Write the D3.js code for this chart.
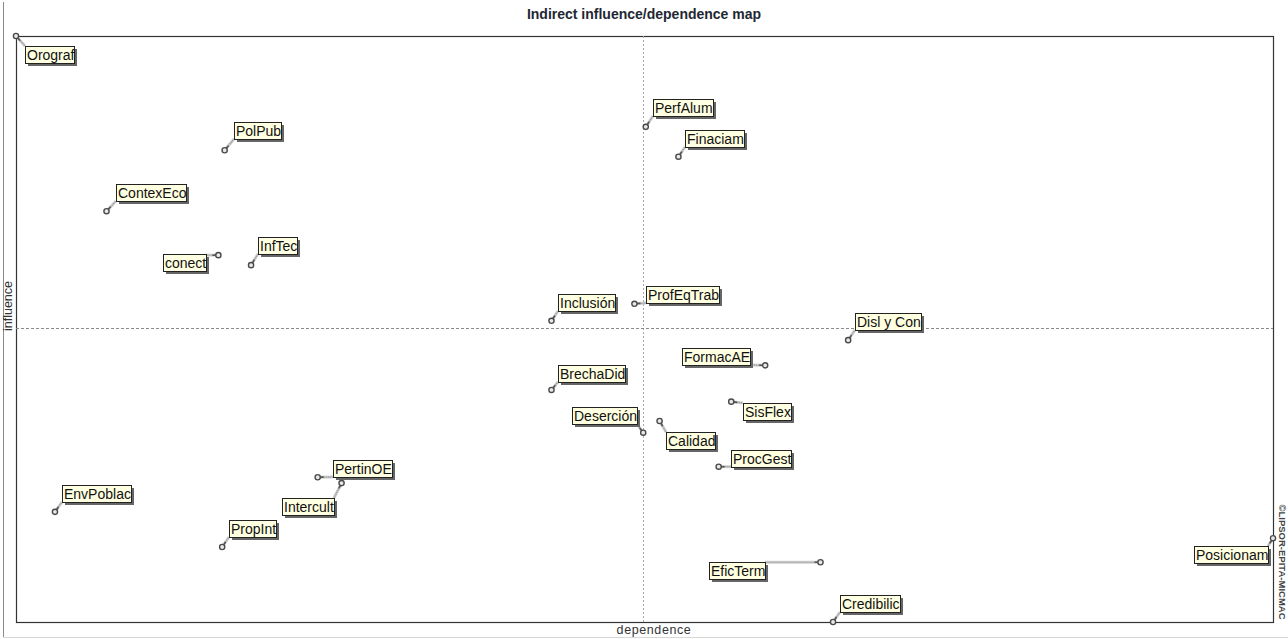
<!DOCTYPE html>
<html>
<head>
<meta charset="utf-8">
<script src="https://cdn.jsdelivr.net/npm/d3@7"></script>
<style>
  html, body { margin: 0; padding: 0; background: #ffffff; }
  svg { display: block; }
</style>
</head>
<body>
<svg id="chart" width="1288" height="639"></svg>
<script>
// ---- data (indirect dependence / influence, relative units) ----
const variables = ["Orograf","PolPub","ContexEco","conect","InfTec","PerfAlum","Finaciam","Inclusión","ProfEqTrab","Disl y Con","FormacAE","BrechaDid","SisFlex","Deserción","Calidad","ProcGest","PertinOE","Intercult","EnvPoblac","PropInt","EficTerm","Posicionam","Credibilic"];
const dependence = [0,166,72,161,187,501,527,426,492,662,596,426,569,499,512,559,240,259,31,164,640,1000,650];
const influence  = [1000,805,701,626,609,845,794,514,543,481,438,396,376,323,343,265,247,237,188,128,102,143,0];
const meanDependence = 499;
const meanInfluence = 502;

// ---- layout of label boxes relative to their point (pixels) ----
// side "r": box left edge = point.x + dx ; side "l": box right edge = point.x + dx ; dy = box top offset
const labelLayout = [
  {side:"r",dx:9,dy:10},{side:"r",dx:9,dy:-28},{side:"r",dx:9,dy:-27},{side:"l",dx:-12,dy:-1},
  {side:"r",dx:7,dy:-28},{side:"r",dx:7,dy:-28},{side:"r",dx:7,dy:-27},{side:"r",dx:7,dy:-27},
  {side:"r",dx:12,dy:-18},{side:"r",dx:7,dy:-27},{side:"l",dx:-15,dy:-17},{side:"r",dx:7,dy:-25},
  {side:"r",dx:12,dy:1},{side:"l",dx:-6,dy:-26},{side:"r",dx:6,dy:11},{side:"r",dx:12,dy:-17},
  {side:"r",dx:15,dy:-17},{side:"l",dx:-8,dy:15},{side:"r",dx:7,dy:-27},{side:"r",dx:7,dy:-27},
  {side:"l",dx:-55,dy:0},{side:"l",dx:-5,dy:8},{side:"r",dx:7,dy:-27}
];

const W = 1288, H = 639;
const plot = {left:16, top:36, right:1273, bottom:622};
const svg = d3.select("#chart");

const x = d3.scaleLinear().domain(d3.extent(dependence)).range([plot.left, plot.right]);
const y = d3.scaleLinear().domain(d3.extent(influence)).range([plot.bottom, plot.top]);

// outer frame lines
svg.append("line").attr("x1",3.5).attr("x2",3.5).attr("y1",2).attr("y2",637)
  .attr("stroke","#8a8a8a").attr("stroke-width",1);
svg.append("line").attr("x1",3).attr("x2",1288).attr("y1",637.5).attr("y2",637.5)
  .attr("stroke","#d8d8d8").attr("stroke-width",1);

// title
svg.append("text").attr("x",644).attr("y",19).attr("text-anchor","middle")
  .attr("font-family","Liberation Sans, Arial, sans-serif").attr("font-weight","bold")
  .attr("font-size",14).attr("fill","#1e2733").text("Indirect influence/dependence map");

// plot frame
svg.append("rect").attr("x",plot.left+0.5).attr("y",plot.top+0.5)
  .attr("width",plot.right-plot.left).attr("height",plot.bottom-plot.top)
  .attr("fill","none").attr("stroke","#333").attr("stroke-width",1.2);

// mean cross lines
svg.append("line").attr("x1",Math.round(x(meanDependence))+0.5).attr("x2",Math.round(x(meanDependence))+0.5)
  .attr("y1",plot.top).attr("y2",plot.bottom)
  .attr("stroke","#a8a8a8").attr("stroke-dasharray","2,2").attr("stroke-width",1);
svg.append("line").attr("x1",plot.left).attr("x2",plot.right)
  .attr("y1",Math.round(y(meanInfluence))+0.5).attr("y2",Math.round(y(meanInfluence))+0.5)
  .attr("stroke","#8a8a8a").attr("stroke-dasharray","3,2").attr("stroke-width",1);

// axis titles
svg.append("text").attr("x",654).attr("y",634).attr("text-anchor","middle")
  .attr("font-family","Liberation Sans, Arial, sans-serif").attr("font-size",12.5)
  .attr("letter-spacing",0.6).attr("fill","#333").text("dependence");
svg.append("text").attr("transform","translate(12,306) rotate(-90)").attr("text-anchor","middle")
  .attr("font-family","Liberation Sans, Arial, sans-serif").attr("font-size",12.5)
  .attr("fill","#333").text("influence");
svg.append("text").attr("transform","translate(1279,562) rotate(90)").attr("text-anchor","middle")
  .attr("font-family","Liberation Sans, Arial, sans-serif").attr("font-size",9.5).attr("font-weight","bold")
  .attr("fill","#444").text("©LIPSOR-EPITA-MICMAC");

// points + labels
const data = variables.map((name,i) => ({name, dep:dependence[i], inf:influence[i], lay:labelLayout[i]}));
const gConn = svg.append("g");
const gLab = svg.append("g");
const gPts = svg.append("g");

data.forEach(d => {
  const px = x(d.dep), py = y(d.inf);
  const g = gLab.append("g");
  const t = g.append("text")
    .attr("font-family","Liberation Sans, Arial, sans-serif").attr("font-size",14)
    .attr("fill","#111").text(d.name);
  const tw = t.node().getComputedTextLength();
  const bw = Math.round(tw + 2), bh = 17;
  const bx = d.lay.side === "r" ? Math.round(px + d.lay.dx) : Math.round(px + d.lay.dx - bw);
  const by = Math.round(py + d.lay.dy);
  g.insert("rect","text").attr("x",bx+3).attr("y",by+3).attr("width",bw).attr("height",bh)
    .attr("fill","#666");
  g.insert("rect","text").attr("x",bx+0.5).attr("y",by+0.5).attr("width",bw).attr("height",bh)
    .attr("fill","#ffffe1").attr("stroke","#222").attr("stroke-width",1);
  t.attr("x",bx+2).attr("y",by+14);
  // connector to nearest point on box
  const cx = Math.max(bx, Math.min(px, bx+bw));
  const cy = Math.max(by, Math.min(py, by+bh));
  gConn.append("line").attr("x1",px).attr("y1",py).attr("x2",cx).attr("y2",cy)
    .attr("stroke","#d0d0d0").attr("stroke-width",3);
  gConn.append("line").attr("x1",px).attr("y1",py).attr("x2",cx).attr("y2",cy)
    .attr("stroke","#8c8c8c").attr("stroke-width",1.2).attr("stroke-dasharray","1,1");
  // short dark handle near the marker
  const len = Math.hypot(cx-px, cy-py) || 1;
  const ux = (cx-px)/len, uy = (cy-py)/len;
  gPts.append("line").attr("x1",px).attr("y1",py)
    .attr("x2",px+ux*Math.min(6,len)).attr("y2",py+uy*Math.min(6,len))
    .attr("stroke","#555").attr("stroke-width",1.6);
  gPts.append("circle").attr("cx",px).attr("cy",py).attr("r",2.6)
    .attr("fill","#e8e8e8").attr("stroke","#4a4a4a").attr("stroke-width",1.4);
});
</script>
</body>
</html>
